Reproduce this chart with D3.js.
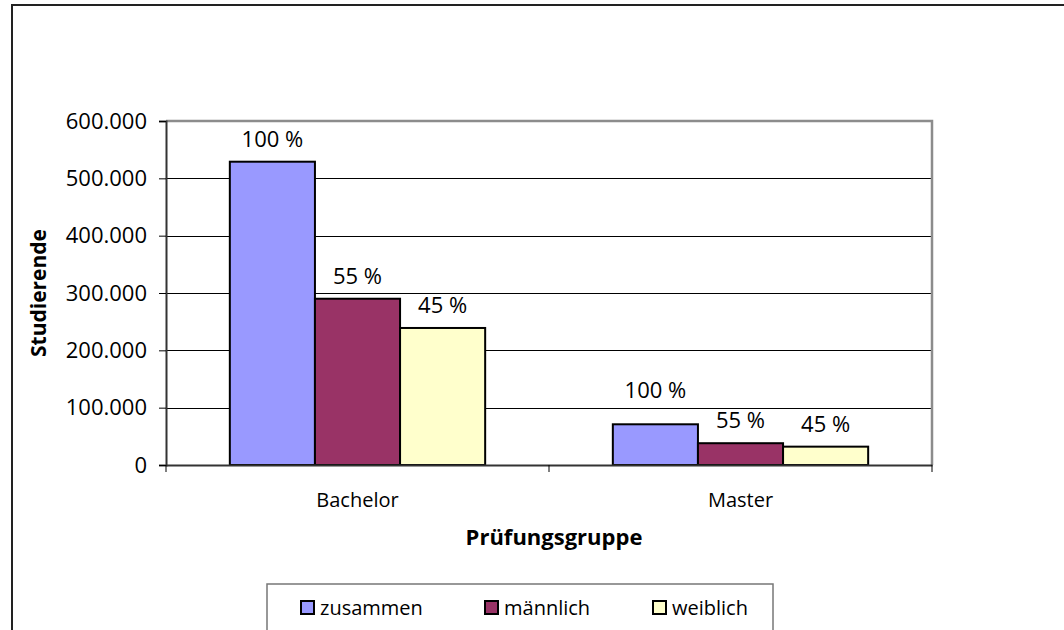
<!DOCTYPE html>
<html>
<head>
<meta charset="utf-8">
<script src="https://cdn.jsdelivr.net/npm/d3@7"></script>
<style>
  body { margin: 0; background: #fff; }
  svg text { font-family: "Open Sans", "Noto Sans", sans-serif; fill: #000; }
</style>
</head>
<body>
<div id="chart"></div>
<script>
// data
const categories = ['Bachelor', 'Master'];
const series = ['zusammen', 'männlich', 'weiblich'];
const colors = ['#9999ff', '#993366', '#ffffcc'];
const zusammen = [529000, 71000];
const maennlich = [290000, 38000];
const weiblich = [239000, 32000];
const percentLabels = ['100 %', '55 %', '45 %'];
const yTicks = [0, 100000, 200000, 300000, 400000, 500000, 600000];

const values = [zusammen, maennlich, weiblich];

const width = 1064, height = 630;
const margin = {top: 121, right: 132, bottom: 165, left: 166};

const svg = d3.select('#chart')
  .append('svg')
  .attr('width', width)
  .attr('height', height);

// outer chart frame (runs off the picture at right and bottom)
svg.append('rect')
  .attr('x', 12).attr('y', 5)
  .attr('width', 1100).attr('height', 700)
  .attr('fill', 'none')
  .attr('stroke', '#222')
  .attr('stroke-width', 2);

/// SETUP scales
const x0 = d3.scaleBand()
  .domain(categories)
  .range([margin.left, width - margin.right])
  .padding(0);

const x1 = d3.scaleBand()
  .domain(series)
  .range([0, x0.bandwidth()])
  .paddingInner(0)
  .paddingOuter(0.75);

const y = d3.scaleLinear()
  .domain([0, 600000])
  .range([height - margin.bottom, margin.top]);

const de = d3.formatLocale({decimal: ',', thousands: '.', grouping: [3], currency: ['', ' €']});
const fmt = de.format(',.0f');

/// gridlines
const gridVals = yTicks.filter(d => d > 0 && d < 600000);
svg.append('g')
  .selectAll('line')
  .data(gridVals)
  .join('line')
  .attr('x1', margin.left).attr('x2', width - margin.right)
  .attr('y1', d => Math.round(y(d)) + 0.5).attr('y2', d => Math.round(y(d)) + 0.5)
  .attr('stroke', '#000')
  .attr('stroke-width', 1);

// plot border top/right (grey)
svg.append('path')
  .attr('d', `M${margin.left},${y(600000)}H${width - margin.right}V${y(0)}`)
  .attr('fill', 'none')
  .attr('stroke', '#8c8c8c')
  .attr('stroke-width', 2.5);

/// BUILD bars
const groups = svg.append('g')
  .selectAll('g')
  .data(categories)
  .join('g')
  .attr('transform', d => `translate(${x0(d)},0)`);

groups.selectAll('rect')
  .data((c, ci) => series.map((s, si) => ({s, si, v: values[si][ci]})))
  .join('rect')
  .attr('x', d => x1(d.s))
  .attr('y', d => y(d.v))
  .attr('width', x1.bandwidth())
  .attr('height', d => y(0) - y(d.v))
  .attr('fill', d => colors[d.si])
  .attr('stroke', '#000')
  .attr('stroke-width', 2);

// label baseline above the bar; lift it clear of a gridline it would cross
function labelY(v) {
  let base = y(v) - 15;
  gridVals.forEach(g => {
    const gy = y(g);
    if (gy > base - 16 && gy < base + 3) base = gy - 10;
  });
  return base;
}

groups.selectAll('text')
  .data((c, ci) => series.map((s, si) => ({s, si, v: values[si][ci]})))
  .join('text')
  .attr('x', d => x1(d.s) + x1.bandwidth() / 2)
  .attr('y', d => labelY(d.v))
  .attr('text-anchor', 'middle')
  .style('font-size', '22px')
  .text(d => percentLabels[d.si]);

/// DISPLAY axes
const yAxis = svg.append('g')
  .attr('transform', `translate(${margin.left},0)`)
  .call(d3.axisLeft(y).tickValues(yTicks).tickFormat(d => fmt(d)).tickSize(7).tickPadding(12));
yAxis.select('.domain').attr('stroke', '#333').attr('stroke-width', 2);
yAxis.selectAll('.tick line').attr('stroke', '#000');
yAxis.selectAll('text')
  .style('font-size', '22px')
  .attr('fill', '#000');

const xAxis = svg.append('g')
  .attr('transform', `translate(0,${y(0)})`)
  .call(d3.axisBottom(x0).tickSize(0).tickPadding(28));
xAxis.select('.domain').attr('stroke', '#333').attr('stroke-width', 2);
xAxis.selectAll('text').style('font-size', '20px').attr('fill', '#000');

// category boundary ticks
svg.append('g')
  .selectAll('line')
  .data([...categories.map(c => x0(c)), x0(categories[1]) + x0.bandwidth()])
  .join('line')
  .attr('x1', d => d).attr('x2', d => d)
  .attr('y1', y(0)).attr('y2', y(0) + 7)
  .attr('stroke', '#000');

/// axis titles
svg.append('text')
  .attr('x', (margin.left + width - margin.right) / 2 + 5)
  .attr('y', 545)
  .attr('text-anchor', 'middle')
  .style('font-size', '22px')
  .style('font-weight', 'bold')
  .text('Prüfungsgruppe');

svg.append('text')
  .attr('transform', `translate(46,${(y(0) + y(600000)) / 2}) rotate(-90)`)
  .attr('text-anchor', 'middle')
  .style('font-size', '21px')
  .style('font-weight', 'bold')
  .text('Studierende');

/// legend
const legend = svg.append('g');
legend.append('rect')
  .attr('x', 267).attr('y', 584)
  .attr('width', 506).attr('height', 80)
  .attr('fill', '#fff')
  .attr('stroke', '#777')
  .attr('stroke-width', 1.5);

const legendX = [301, 485, 653];
const items = legend.selectAll('g.item')
  .data(series)
  .join('g')
  .attr('class', 'item')
  .attr('transform', (d, i) => `translate(${legendX[i]},601)`);

items.append('rect')
  .attr('width', 13).attr('height', 13)
  .attr('fill', (d, i) => colors[i])
  .attr('stroke', '#000')
  .attr('stroke-width', 2);

items.append('text')
  .attr('x', 19).attr('y', 14)
  .style('font-size', '20px')
  .text(d => d);
</script>
</body>
</html>
